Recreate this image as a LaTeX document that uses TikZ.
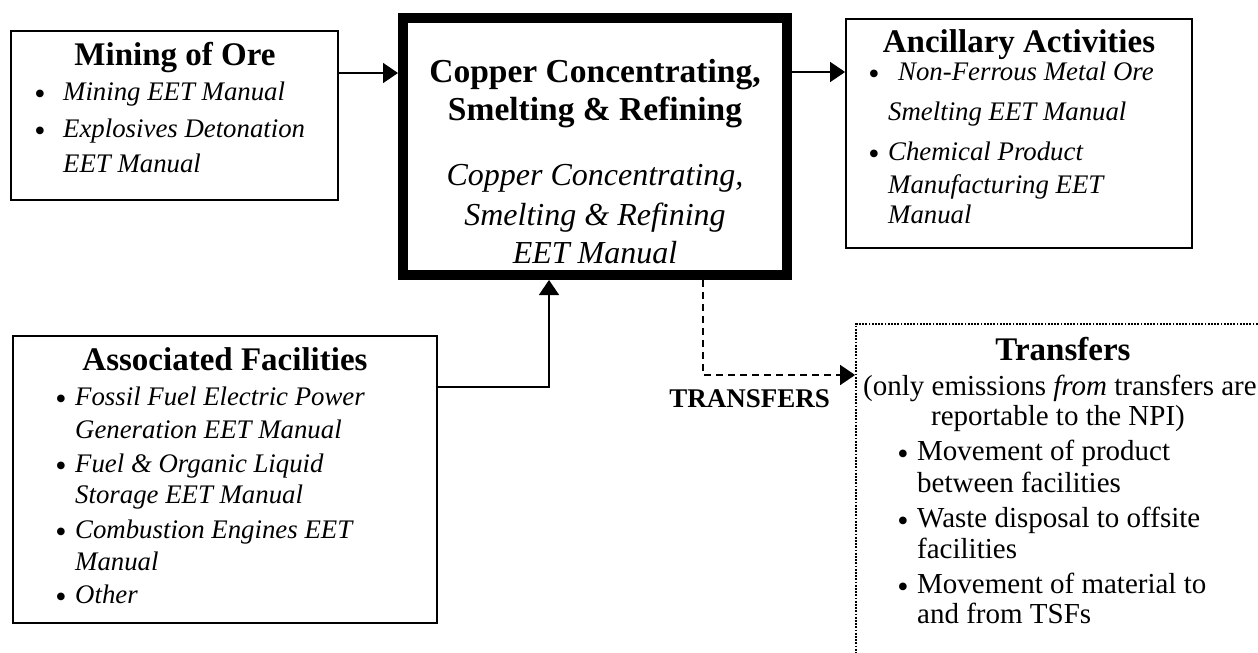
\documentclass[tikz,border=0pt]{standalone}
\usepackage{fontspec}
\setmainfont{Liberation Serif}
\usepackage{tikz}
\usetikzlibrary{arrows.meta}

\newcommand{\fsz}[2]{\fontsize{#1}{#2}\selectfont}

\begin{document}
\begin{tikzpicture}[x=1pt,y=-1pt,
  box/.style={draw,line width=1.8pt,inner sep=0pt},
  arr/.style={line width=1.6pt,-{Triangle[length=15pt,width=20pt]}},
  hd/.style={font=\fsz{33}{38}\bfseries,anchor=base,inner sep=0pt},
  bighd/.style={font=\fsz{33.5}{38}\bfseries,anchor=base,inner sep=0pt},
  bigit/.style={font=\fsz{32}{36}\itshape,anchor=base,inner sep=0pt},
  itm/.style={font=\fsz{26.8}{31}\itshape,anchor=base west,inner sep=0pt},
  rmt/.style={font=\fsz{29}{33},anchor=base west,inner sep=0pt},
  bul/.style={font=\fsz{32}{36},anchor=base,inner sep=0pt,yshift=-4pt}]
\clip (0,0) rectangle (1258,653);
\useasboundingbox (0,0) rectangle (1258,653);

% boxes
\node[box,minimum width=327pt,minimum height=169pt] (mining) at (174.5,115.5) {};
\node[draw,line width=10pt,inner sep=0pt,minimum width=384pt,minimum height=257pt] (central) at (595,146.5) {};
\node[box,minimum width=346pt,minimum height=229pt] (ancillary) at (1019,133.5) {};
\node[box,minimum width=424pt,minimum height=287pt] (assoc) at (225,479.5) {};
\node[draw,line width=1.8pt,dash pattern=on 1.8pt off 1.4pt,inner sep=0pt,
      minimum width=460pt,minimum height=400pt] (transfers) at (1086,524) {};

% connectors
\draw[arr] ([yshift=42.5pt]mining.east) coordinate (mo) -- (mo -| central.west);
\draw[arr] ([yshift=74.5pt]central.east) coordinate (co) -- (co -| ancillary.west);
\draw[arr] ([yshift=92.5pt]assoc.east) -| ([xshift=-46pt]central.south);
\draw[arr,dash pattern=on 7pt off 5pt] ([xshift=108pt]central.south) |- ([yshift=149pt]transfers.west);
\node[font=\fsz{27}{30}\bfseries,anchor=base east,inner sep=0pt] (trlabel) at (830,407) {TRANSFERS};

% mining of ore
\draw (175,65) node[hd] (mT) {Mining of Ore}
(40,100) node[bul] (mB1) {\textbullet}
(63,100) node[itm] (m1) {Mining EET Manual}
(40,137) node[bul] (mB2) {\textbullet}
(63,137) node[itm] (m2) {Explosives Detonation}
(63,172) node[itm] (m3) {EET Manual};

% central box
\draw (595,82) node[bighd] (cT1) {Copper Concentrating,}
(595,120) node[bighd] (cT2) {Smelting \& Refining}
(595,185) node[bigit] (c1) {Copper Concentrating,}
(595,225) node[bigit] (c2) {Smelting \& Refining}
(595,263) node[bigit] (c3) {EET Manual};

% ancillary activities
\draw (1019,52) node[hd] (aT) {Ancillary Activities}
(874,80) node[bul] (aB1) {\textbullet}
(898,80) node[itm] (a1) {Non-Ferrous Metal Ore}
(888,120) node[itm] (a2) {Smelting EET Manual}
(874,160) node[bul] (aB2) {\textbullet}
(888,160) node[itm] (a3) {Chemical Product}
(888,193) node[itm] (a4) {Manufacturing EET}
(888,223) node[itm] (a5) {Manual};

% associated facilities
\draw (225,370) node[hd] (fT) {Associated Facilities}
(61,405) node[bul] (fB1) {\textbullet}
(75,405) node[itm] (f1) {Fossil Fuel Electric Power}
(75,438) node[itm] (f2) {Generation EET Manual}
(61,472) node[bul] (fB2) {\textbullet}
(75,472) node[itm] (f3) {Fuel \& Organic Liquid}
(75,503) node[itm] (f4) {Storage EET Manual}
(61,538) node[bul] (fB3) {\textbullet}
(75,538) node[itm] (f5) {Combustion Engines EET}
(75,570) node[itm] (f6) {Manual}
(61,603) node[bul] (fB4) {\textbullet}
(75,603) node[itm] (f7) {Other};

% transfers
\draw (1063,360) node[hd] (tT) {Transfers}
(863,395) node[rmt] (t0) {(only emissions \textit{from} transfers are}
(1058,425) node[rmt,anchor=base] (t1) {reportable to the NPI)}
(903,460) node[bul] (tB1) {\textbullet}
(917,460) node[rmt] (t2) {Movement of product}
(917,492) node[rmt] (t3) {between facilities}
(903,527) node[bul] (tB2) {\textbullet}
(917,527) node[rmt] (t4) {Waste disposal to offsite}
(917,558) node[rmt] (t5) {facilities}
(903,593) node[bul] (tB3) {\textbullet}
(917,593) node[rmt] (t6) {Movement of material to}
(917,623) node[rmt] (t7) {and from TSFs};
\end{tikzpicture}
\end{document}
